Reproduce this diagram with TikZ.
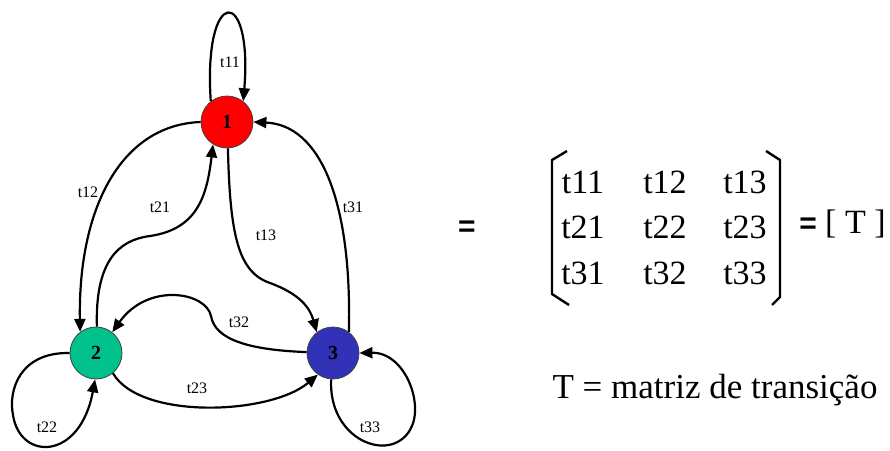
\documentclass[tikz,border=0pt]{standalone}
\usepackage{fontspec}
\setmainfont{Liberation Serif}
\newfontfamily\eqfont{Liberation Sans}
\usetikzlibrary{arrows.meta}
\definecolor{stRed}{HTML}{FF0000}
\definecolor{stGreen}{HTML}{00C08C}
\definecolor{stBlue}{HTML}{3232B8}
\tikzset{
    state/.style={circle, draw=black!75, line width=0.8pt, minimum size=52pt, inner sep=0pt, font=\fontsize{20}{20}\selectfont\bfseries},
    tedge/.style={-{Triangle[length=13pt, width=11pt]}, line width=2.2pt},
    tlbl/.style={font=\fontsize{16}{16}\selectfont, inner sep=1pt},
    mtx/.style={font=\fontsize{34}{34}\selectfont, inner sep=0pt},
    brk/.style={line width=2.4pt, line join=round},
    eqsign/.style={font=\eqfont\bfseries\fontsize{30}{30}\selectfont, inner sep=0pt}
}
\begin{document}
\begin{tikzpicture}[x=1pt, y=-1pt]
    \useasboundingbox (0,0) rectangle (890,450);
    % states
    \node[state, fill=stRed] (s1) at (227,122) {1};
    \node[state, fill=stGreen] (s2) at (96,353) {2};
    \node[state, fill=stBlue] (s3) at (333,353) {3};
    % transitions
    \draw[tedge] (s1.128) .. controls (203,-15) and (253,-15) .. (s1.52);
    \draw[tedge] (s1.180) .. controls (120,125) and (78,210) .. (s2.127);
    \draw[tedge] (s2.88) .. controls (95,262) and (118,240) .. (150,236) .. controls (198,229) and (207,195) .. (s1.238);
    \draw[tedge] (s1.272) .. controls (230,235) and (238,272) .. (270,283) .. controls (300,294) and (310,308) .. (s3.128);
    \draw[tedge] (s3.53) .. controls (352,200) and (320,125) .. (s1.0);
    \draw[tedge] (s3.178) .. controls (250,350) and (215,340) .. (211,316) .. controls (206,292) and (148,282) .. (s2.52);
    \draw[tedge] (s2.-50) .. controls (140,420) and (270,415) .. (s3.235);
    \draw[tedge] (s2.180) .. controls (20,352) and (8,390) .. (13,415) .. controls (20,461) and (80,461) .. (s2.268);
    \draw[tedge] (s3.266) .. controls (328,440) and (390,464) .. (410,430) .. controls (425,405) and (405,352) .. (s3.0);
    % labels
    \node[tlbl] (l11) at (230,62) {t11};
    \node[tlbl] (l12) at (88,192) {t12};
    \node[tlbl] (l21) at (160,207) {t21};
    \node[tlbl] (l13) at (266,235) {t13};
    \node[tlbl] (l31) at (353,207) {t31};
    \node[tlbl] (l32) at (239,322) {t32};
    \node[tlbl] (l23) at (197,388) {t23};
    \node[tlbl] (l22) at (47,427) {t22};
    \node[tlbl] (l33) at (370,427) {t33};
    % matrix
    \node[eqsign] (eq1) at (467,229) {=};
    \foreach \r/\y in {1/182,2/227,3/273}{
        \foreach \c/\x in {1/583,2/665,3/745}{
            \node[mtx] (m\r\c) at (\x,\y) {t\r\c};
        }
    }
    \draw[brk] (567,151) -- (552,160) -- (552,294) -- (569,305);
    \draw[brk] (766,151) -- (780,160) -- (780,297) -- (772,305);
    \node[eqsign] (eq2) at (808,226) {=};
    \node[mtx, anchor=west] (tT) at (825,224) {[ T ]};
    \node[mtx, font=\fontsize{35}{35}\selectfont] (def) at (715,390) {T = matriz de transição};
\end{tikzpicture}
\end{document}
